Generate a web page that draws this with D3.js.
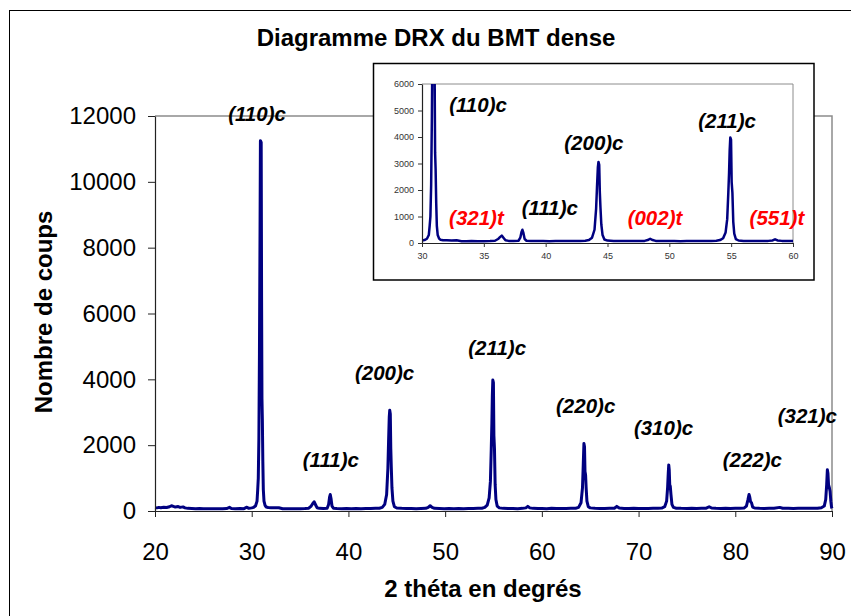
<!DOCTYPE html>
<html><head><meta charset="utf-8">
<script src="https://cdn.jsdelivr.net/npm/d3@7"></script>
<style>
html,body{margin:0;padding:0;background:#fff;}
svg text{font-family:"Liberation Sans",Arial,sans-serif;}
</style></head>
<body><svg id="chart" width="851" height="616"></svg>
<script>
// ---- Data ----
const chartTitle = "Diagramme DRX du BMT dense";
const xTitle = "2 théta en degrés";
const yTitle = "Nombre de coups";
const mainXTicks = [20,30,40,50,60,70,80,90];
const mainYTicks = [0,2000,4000,6000,8000,10000,12000];
const insetXTicks = [30,35,40,45,50,55,60];
const insetYTicks = [0,1000,2000,3000,4000,5000,6000];

// XRD scan: [2theta, counts]
const scan = [[20.0,100],[20.2,95],[20.4,110],[20.6,100],[20.9,115],[21.2,105],[21.5,130],[21.7,160],[21.9,140],[22.1,120],[22.4,135],[22.6,110],[22.9,125],[23.1,95],[23.4,80],[23.8,75],[24.2,70],[24.6,75],[25.0,70],[25.5,72],[26.0,68],[26.5,72],[27.0,70],[27.4,75],[27.7,110],[27.9,75],[28.3,70],[28.8,75],[29.2,72],[29.5,115],[29.7,80],[30.0,95],[30.2,110],[30.4,160],[30.55,300],[30.62,650],[30.68,1000],[30.74,2200],[30.8,4800],[30.86,8500],[30.9,11250],[30.98,11200],[31.02,6500],[31.06,3400],[31.1,2800],[31.15,1500],[31.2,650],[31.27,300],[31.38,170],[31.5,120],[31.7,105],[32.0,100],[32.4,95],[32.8,100],[33.2,70],[33.6,65],[34.0,72],[34.5,68],[35.0,70],[35.5,75],[35.9,85],[36.15,150],[36.3,220],[36.45,280],[36.6,190],[36.75,100],[37.0,80],[37.4,75],[37.8,85],[37.95,200],[38.05,420],[38.12,500],[38.2,380],[38.3,150],[38.45,85],[38.8,75],[39.3,72],[39.8,78],[40.3,70],[40.8,75],[41.3,72],[41.8,78],[42.3,75],[42.8,80],[43.2,85],[43.5,110],[43.75,200],[43.95,500],[44.08,1300],[44.15,2100],[44.22,2850],[44.27,3060],[44.33,2950],[44.38,1900],[44.43,1350],[44.5,700],[44.6,300],[44.75,130],[45.0,90],[45.5,80],[46.0,75],[46.5,78],[47.0,72],[47.5,75],[48.0,80],[48.25,110],[48.45,160],[48.65,110],[48.9,80],[49.4,75],[49.9,72],[50.4,76],[50.9,70],[51.4,75],[51.9,72],[52.4,78],[52.9,75],[53.4,80],[53.8,85],[54.1,110],[54.35,180],[54.55,400],[54.68,900],[54.77,1900],[54.83,2650],[54.88,3500],[54.93,3980],[54.99,3900],[55.04,2300],[55.1,1900],[55.17,800],[55.25,350],[55.38,150],[55.6,95],[56.0,80],[56.5,75],[57.0,78],[57.5,72],[58.0,80],[58.35,95],[58.55,140],[58.75,95],[59.1,80],[59.6,75],[60.0,78],[60.5,72],[61.0,80],[61.5,75],[62.0,78],[62.5,75],[63.0,80],[63.5,85],[63.8,110],[64.05,250],[64.2,700],[64.28,1400],[64.35,2050],[64.41,1950],[64.46,1200],[64.52,1100],[64.58,700],[64.66,300],[64.8,130],[65.0,95],[65.5,80],[66.0,78],[66.5,75],[67.0,80],[67.5,85],[67.75,140],[68.0,90],[68.5,78],[69.0,75],[69.5,80],[70.0,76],[70.5,78],[71.0,75],[71.5,80],[72.0,82],[72.4,90],[72.7,130],[72.9,300],[73.0,700],[73.07,1150],[73.12,1400],[73.17,1250],[73.22,800],[73.28,750],[73.35,500],[73.45,200],[73.6,110],[73.9,85],[74.4,80],[75.0,78],[75.5,80],[76.0,75],[76.5,80],[77.0,85],[77.3,130],[77.55,90],[78.0,80],[78.5,78],[79.0,80],[79.5,75],[80.0,80],[80.5,82],[80.9,90],[81.15,150],[81.3,330],[81.42,500],[81.5,420],[81.58,280],[81.68,250],[81.8,120],[82.0,90],[82.5,80],[83.0,78],[83.5,80],[84.0,82],[84.6,110],[84.9,85],[85.5,80],[86.0,78],[86.5,80],[87.0,82],[87.5,80],[88.0,85],[88.5,82],[88.9,100],[89.2,150],[89.35,350],[89.45,800],[89.52,1250],[89.58,1150],[89.64,800],[89.72,720],[89.8,600],[89.88,300],[89.95,120],[90.0,80]];

// Peak labels: [text, 2theta, counts]
const mainLabels = [["(110)c",30.55,11836],["(111)c",38.18,1344],["(200)c",43.74,3976],["(211)c",55.38,4734],["(220)c",64.53,2965],["(310)c",72.58,2306],["(222)c",81.76,1344],["(321)c",87.45,2662]];
const insetLabels = [["(110)c",34.53,4955,"c"],["(321)t",34.4,680,"t"],["(111)c",40.34,1057,"c"],["(200)c",43.9,3509,"c"],["(002)t",48.84,680,"t"],["(211)c",54.67,4328,"c"],["(551)t",58.7,680,"t"]];

// ---- Drawing ----
const svg = d3.select("#chart");
const LINE = "#000080";

// outer chart border
svg.append("rect").attr("x",9.5).attr("y",10.5).attr("width",860).attr("height",620)
  .attr("fill","#fff").attr("stroke","#000").attr("stroke-width",1);

svg.append("text").attr("x",436).attr("y",46).attr("text-anchor","middle")
  .attr("font-size",24).attr("font-weight","bold").text(chartTitle);

// main plot
const mx = d3.scaleLinear().domain([20,90]).range([155,832]);
const my = d3.scaleLinear().domain([0,12000]).range([511,116]);

// plot area border (gray)
svg.append("path").attr("d",`M${mx(20)},${my(12000)}H${mx(90)}V${my(0)}`)
  .attr("fill","none").attr("stroke","#8c8c8c").attr("stroke-width",1.5);

const line = d3.line().x(d=>mx(d[0])).y(d=>my(d[1]));
svg.append("path").datum(scan).attr("d",line).attr("fill","none")
  .attr("stroke",LINE).attr("stroke-width",3).attr("stroke-linejoin","round");

const yAx = svg.append("g").attr("transform",`translate(${mx(20)},0)`)
  .call(d3.axisLeft(my).tickValues(mainYTicks).tickSize(7).tickSizeOuter(0).tickPadding(12).tickFormat(d3.format("d")));
const xAx = svg.append("g").attr("transform",`translate(0,${my(0)})`)
  .call(d3.axisBottom(mx).tickValues(mainXTicks).tickSize(6).tickSizeOuter(0).tickPadding(26).tickFormat(d3.format("d")));
[yAx,xAx].forEach(g=>{
  g.selectAll("text").attr("font-size",24).attr("fill","#000").attr("font-family","'Liberation Sans',Arial,sans-serif");
  g.selectAll("line").attr("stroke","#222");
  g.select(".domain").attr("stroke","#222").attr("stroke-width",1.2);
});

svg.selectAll("text.mlab").data(mainLabels).enter().append("text").attr("class","mlab")
  .attr("x",d=>mx(d[1])).attr("y",d=>my(d[2])).attr("text-anchor","middle")
  .attr("font-size",20.5).attr("font-weight","bold").attr("font-style","italic").attr("fill","#000")
  .text(d=>d[0]);

svg.append("text").attr("transform","translate(52,312) rotate(-90)").attr("text-anchor","middle")
  .attr("font-size",24).attr("font-weight","bold").text(yTitle);
svg.append("text").attr("x",483).attr("y",597).attr("text-anchor","middle")
  .attr("font-size",24).attr("font-weight","bold").text(xTitle);

// ---- inset ----
const ins = svg.append("g");
ins.append("rect").attr("x",373.5).attr("y",63.5).attr("width",440.5).attr("height",216.5)
  .attr("fill","#fff").attr("stroke","#000").attr("stroke-width",1.5);
const ix = d3.scaleLinear().domain([30,60]).range([422,793]);
const iy = d3.scaleLinear().domain([0,6000]).range([243,84]);
ins.append("path").attr("d",`M${ix(30)},${iy(6000)}H${ix(60)}V${iy(0)}`)
  .attr("fill","none").attr("stroke","#8c8c8c").attr("stroke-width",1);
svg.append("defs").append("clipPath").attr("id","insclip").append("rect")
  .attr("x",ix(30)).attr("y",iy(6000)).attr("width",ix(60)-ix(30)).attr("height",iy(0)-iy(6000)+3);
const iline = d3.line().x(d=>ix(d[0])).y(d=>iy(d[1]));
ins.append("path").datum(scan.filter(d=>d[0]>=30 && d[0]<=60)).attr("d",iline)
  .attr("clip-path","url(#insclip)").attr("fill","none").attr("stroke",LINE)
  .attr("stroke-width",2.5).attr("stroke-linejoin","round");
const iyAx = ins.append("g").attr("transform",`translate(${ix(30)},0)`)
  .call(d3.axisLeft(iy).tickValues(insetYTicks).tickSize(4).tickSizeOuter(0).tickPadding(4).tickFormat(d3.format("d")));
const ixAx = ins.append("g").attr("transform",`translate(0,${iy(0)})`)
  .call(d3.axisBottom(ix).tickValues(insetXTicks).tickSize(4).tickSizeOuter(0).tickPadding(6).tickFormat(d3.format("d")));
[iyAx,ixAx].forEach(g=>{
  g.selectAll("text").attr("font-size",9).attr("fill","#333").attr("font-family","'Liberation Sans',Arial,sans-serif");
  g.selectAll("line").attr("stroke","#333");
  g.select(".domain").attr("stroke","#222").attr("stroke-width",1.2);
});
ins.selectAll("text.ilab").data(insetLabels).enter().append("text").attr("class","ilab")
  .attr("x",d=>ix(d[1])).attr("y",d=>iy(d[2])).attr("text-anchor","middle")
  .attr("font-size",20.5).attr("font-weight","bold").attr("font-style","italic")
  .attr("fill",d=>d[3]==="t"?"#ff0000":"#000").text(d=>d[0]);
</script></body></html>
